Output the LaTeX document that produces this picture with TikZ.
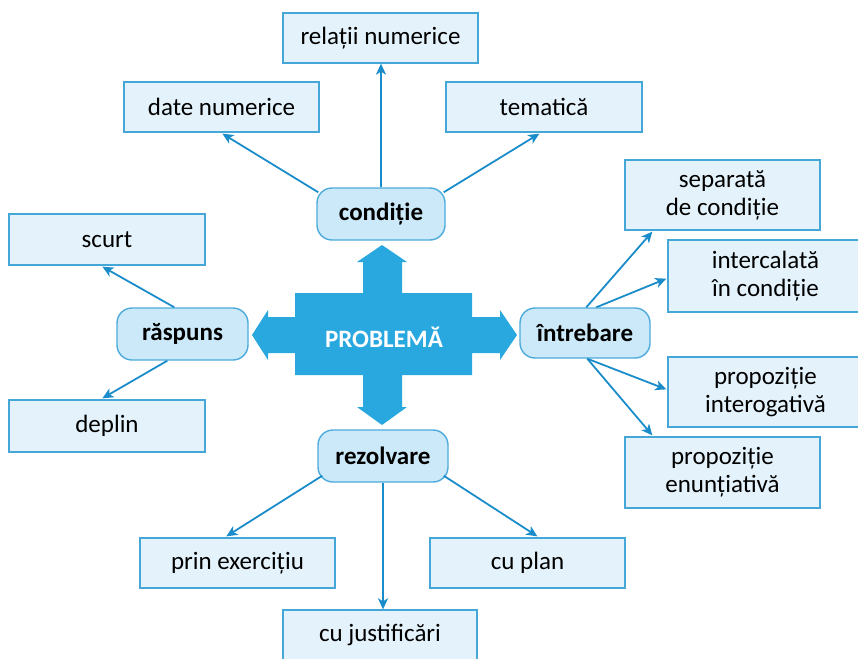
\documentclass[tikz,border=0pt]{standalone}
\usepackage{fontspec}
\setmainfont{Carlito}
\usetikzlibrary{arrows.meta,calc}
\definecolor{boxfill}{HTML}{E4F3FB}
\definecolor{boxline}{HTML}{45A7D8}
\definecolor{keyfill}{HTML}{CBE9F8}
\definecolor{keyline}{HTML}{4DABDC}
\definecolor{arrowcol}{HTML}{1A8CCA}
\definecolor{crossfill}{HTML}{29A8E0}
\tikzset{
  leaf/.style={draw=boxline, fill=boxfill, line width=1.3pt, align=center,
    font=\fontsize{25}{28}\selectfont, inner sep=0pt},
  key/.style={draw=keyline, fill=keyfill, line width=1.4pt, rounded corners=15pt,
    align=center, font=\fontsize{25}{28}\selectfont\bfseries, inner sep=0pt},
  link/.style={draw=arrowcol, line width=1.8pt, -{Stealth[length=11pt,width=10pt,inset=3pt]}}
}
\begin{document}
\begin{tikzpicture}[x=1pt,y=-1pt]
\useasboundingbox (0,0) rectangle (858,658);
% central cross
\fill[crossfill] (382,245) -- (407,262) -- (402,262) -- (402,293) -- (472,293) -- (472,317)
  -- (500,317) -- (500,310) -- (517,335) -- (500,360) -- (500,353) -- (472,353) -- (472,375)
  -- (402,375) -- (402,407) -- (407,407) -- (382,425) -- (357,407) -- (363,407) -- (363,375)
  -- (295,375) -- (295,353) -- (268,353) -- (268,360) -- (252,335) -- (268,310) -- (268,317)
  -- (295,317) -- (295,293) -- (363,293) -- (363,262) -- (357,262) -- cycle;
\node[text=white, font=\fontsize{25}{28}\selectfont\bfseries] (prob) at (384,337) {PROBLEMĂ};
% key nodes
\node[key, minimum width=128pt, minimum height=52pt] (cond) at (381,214) {condiție};
\node[key, minimum width=131pt, minimum height=52pt] (rasp) at (182.5,334) {răspuns};
\node[key, minimum width=130pt, minimum height=50pt] (intr) at (585,333) {întrebare};
\node[key, minimum width=130pt, minimum height=52pt] (rez) at (383,456) {rezolvare};
% leaves
\node[leaf, minimum width=195pt, minimum height=50pt] (rel) at (380.5,38) {relații numerice};
\node[leaf, minimum width=195pt, minimum height=50pt] (date) at (221.5,107) {date numerice};
\node[leaf, minimum width=196pt, minimum height=50pt] (tem) at (544,107) {tematică};
\node[leaf, minimum width=196pt, minimum height=51pt] (scurt) at (107,239.5) {scurt};
\node[leaf, minimum width=196pt, minimum height=52pt] (depl) at (107,426) {deplin};
\node[leaf, minimum width=195pt, minimum height=70pt] (sep) at (722.5,195) {separată\\de condiție};
\node[leaf, minimum width=195pt, minimum height=72pt] (inter) at (765.5,276) {intercalată\\în condiție};
\node[leaf, minimum width=195pt, minimum height=70pt] (interog) at (765.5,392) {propoziție\\interogativă};
\node[leaf, minimum width=195pt, minimum height=71pt] (enunt) at (722.5,472.5) {propoziție\\enunțiativă};
\node[leaf, minimum width=195pt, minimum height=50pt] (prin) at (237.5,563) {prin exercițiu};
\node[leaf, minimum width=195pt, minimum height=50pt] (plan) at (527.5,563) {cu plan};
\node[leaf, minimum width=194pt, minimum height=50pt] (just) at (380,635) {cu justificări};
% connectors
\draw[link] ($(cond.north west)+(2,5)$) -- ($(date.south west)+(99,1)$);
\draw[link] (cond.north) -- (cond.north |- rel.south);
\draw[link] ($(cond.north east)+(-2,5)$) -- ($(tem.south west)+(94,1)$);
\draw[link] ($(rasp.north west)+(58,0)$) -- ($(scurt.south west)+(94,1)$);
\draw[link] ($(rasp.south west)+(51,0)$) -- ($(depl.north west)+(94,-1)$);
\draw[link] ($(intr.north west)+(67,0)$) -- ($(sep.south west)+(28,1)$);
\draw[link] ($(intr.north west)+(77,0)$) -- ($(inter.south west)+(-1,-34)$);
\draw[link] ($(intr.south west)+(68,0)$) -- ($(interog.north west)+(-1,33)$);
\draw[link] ($(intr.south west)+(68,0)$) -- ($(enunt.north west)+(28,-1)$);
\draw[link] ($(rez.south west)+(5,-7)$) -- ($(prin.north west)+(87,-1)$);
\draw[link] (rez.south) -- (rez.south |- just.north);
\draw[link] ($(rez.south east)+(-5,-7)$) -- ($(plan.north west)+(108,-1)$);
\end{tikzpicture}
\end{document}
